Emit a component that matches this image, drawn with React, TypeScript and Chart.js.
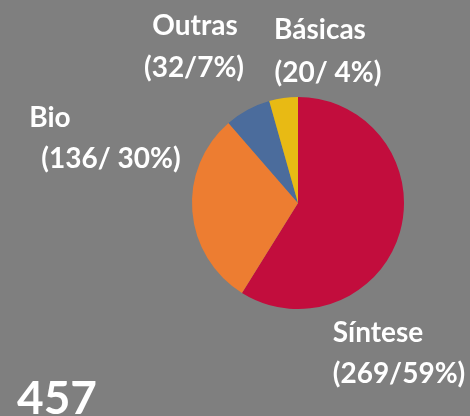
import React, { useEffect, useRef } from "react";
import { Chart, registerables } from "chart.js";

Chart.register(...registerables);

const categories = ["Síntese", "Bio", "Outras", "Básicas"];
const values = [269, 136, 32, 20];
const valueLabels = ["(269/59%)", "(136/ 30%)", "(32/7%)", "(20/ 4%)"];
const colors = ["#C20D3D", "#ED7D31", "#4B6C9C", "#E8BA14"];

// label anchor positions (centre x, baselines for name and value lines)
const labelPos = [
  { x: 378, y1: 342, x2: 399, y2: 383 },
  { x: 50, y1: 127, x2: 111, y2: 168 },
  { x: 195, y1: 35, x2: 194, y2: 77 },
  { x: 320, y1: 39, x2: 328, y2: 82 },
];

const FONT = "Lato, 'Open Sans', sans-serif";

const labelsPlugin = {
  id: "pieLabels",
  afterDraw(chart: any) {
    const ctx = chart.ctx;
    ctx.save();
    ctx.fillStyle = "#ffffff";
    ctx.textAlign = "center";
    ctx.textBaseline = "alphabetic";
    ctx.font = `bold 28px ${FONT}`;
    categories.forEach((c, i) => {
      const p = labelPos[i];
      ctx.fillText(c, p.x, p.y1);
      ctx.fillText(valueLabels[i], p.x2, p.y2);
    });
    const total = values.reduce((a, b) => a + b, 0);
    ctx.font = `bold 46px ${FONT}`;
    ctx.fillText(String(total), 57, 414);
    ctx.restore();
  },
};

export default function App() {
  const ref = useRef<HTMLCanvasElement>(null);
  useEffect(() => {
    document.body.style.margin = "0";
    const chart = new Chart(ref.current!, {
      type: "pie",
      data: {
        labels: categories,
        datasets: [
          {
            data: values,
            backgroundColor: colors,
            borderWidth: 0,
          },
        ],
      },
      options: {
        animation: false,
        responsive: false,
        layout: { padding: { left: 192, right: 66, top: 97, bottom: 107 } },
        plugins: { legend: { display: false }, tooltip: { enabled: false } },
      },
      plugins: [labelsPlugin],
    });
    return () => chart.destroy();
  }, []);
  return (
    <div style={{ width: 470, height: 416, background: "#7F7F7F" }}>
      <canvas ref={ref} width={470} height={416} style={{ display: "block" }} />
    </div>
  );
}
